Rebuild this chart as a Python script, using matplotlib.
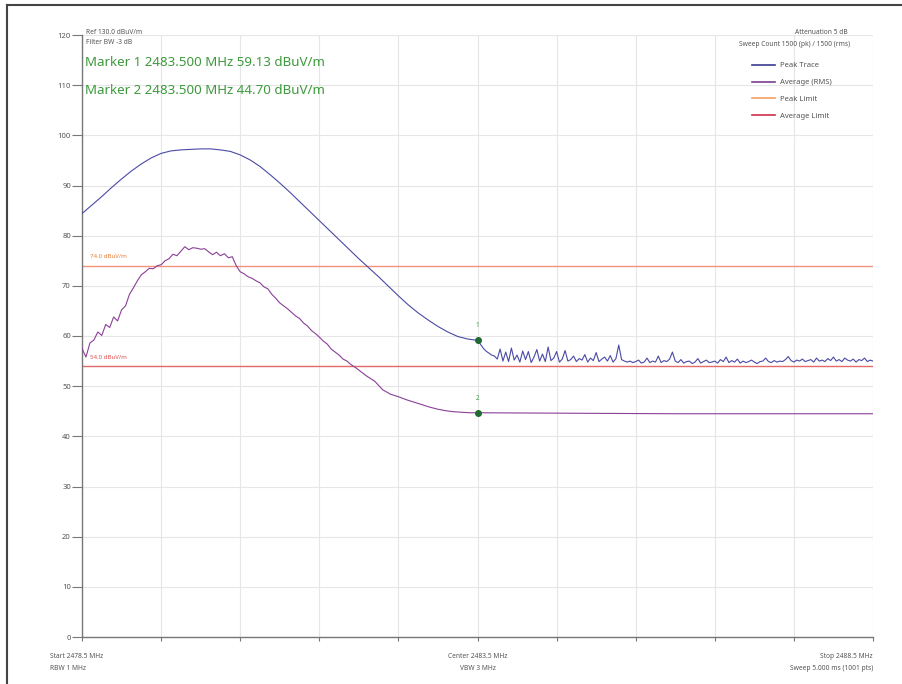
import numpy as np
import matplotlib
matplotlib.use("Agg")
import matplotlib.pyplot as plt
from matplotlib.lines import Line2D

plt.rcParams['font.family'] = ['Noto Sans', 'DejaVu Sans']

# ---------------- data ----------------
span_start = 2478.5
span_stop = 2488.5
center = 2483.5

peak_smooth_freq = [2478.500, 2478.625, 2478.750, 2478.875, 2479.000, 2479.125, 2479.250,
                    2479.375, 2479.500, 2479.625, 2479.750, 2479.875, 2480.000, 2480.125,
                    2480.250, 2480.375, 2480.500, 2480.625, 2480.750, 2480.875, 2481.000,
                    2481.125, 2481.250, 2481.375, 2481.500, 2481.625, 2481.750, 2481.875,
                    2482.000, 2482.125, 2482.250, 2482.375, 2482.500, 2482.625, 2482.750,
                    2482.875, 2483.000, 2483.125, 2483.250, 2483.375]
peak_smooth_vals = [84.4, 86.1, 87.8, 89.6, 91.3, 92.9, 94.3,
                    95.5, 96.4, 96.9, 97.1, 97.2, 97.3, 97.3,
                    97.1, 96.8, 96.1, 95.1, 93.8, 92.2, 90.5,
                    88.7, 86.8, 84.9, 83.0, 81.1, 79.2, 77.3,
                    75.4, 73.6, 71.8, 69.9, 68.0, 66.2, 64.6,
                    63.2, 61.9, 60.8, 59.9, 59.4]

# noisy tail of the peak trace, 2483.5 .. 2488.5 MHz (evenly spaced sweep points)
peak_tail_vals = [59.13, 58.4, 57.6, 57.0, 56.6, 56.2, 56.0,
                  55.4, 57.4, 55.0, 56.8, 54.9, 57.6, 55.2, 56.2, 54.8, 57.0, 55.3, 56.9,
                  54.7, 55.8, 57.3, 55.0, 56.4, 54.9, 57.8, 55.1, 55.6, 56.9, 54.8, 55.4,
                  57.1, 55.0, 55.3, 56.0, 54.9, 55.5, 55.2, 56.3, 54.8, 55.6, 55.1, 56.7,
                  54.9, 55.4, 55.8, 55.0, 56.1, 54.8, 55.5, 58.2, 55.3, 55.0,
                  54.8, 55.0, 54.7, 54.9, 55.2, 54.6, 54.8, 55.6, 54.7, 55.0, 54.8, 56.0,
                  54.7, 55.1, 54.9, 55.4, 56.8, 55.0, 54.7, 55.3, 54.6, 54.9, 55.0, 54.5,
                  54.8, 55.5, 54.6, 54.9, 55.2, 54.7, 54.8, 55.0, 54.6, 55.3, 54.9, 55.8,
                  54.7, 55.1, 54.8, 55.4, 54.6, 55.0, 54.7, 54.9, 55.2, 54.8, 54.5, 54.9,
                  55.0, 55.6, 54.9, 54.7, 55.1, 54.8, 55.0, 54.9, 55.3, 55.9, 55.1, 54.8,
                  55.2, 55.0, 55.4, 54.9, 55.1, 55.3, 54.8, 55.6, 55.0, 55.2, 54.9, 55.5,
                  55.1, 55.8, 55.0, 55.3, 54.9, 55.6, 55.2, 55.0, 55.4, 54.8, 55.3, 55.1,
                  55.6, 54.9, 55.2, 55.0]

avg_freq = [2478.50, 2478.55, 2478.60, 2478.65, 2478.70, 2478.75, 2478.80, 2478.85,
            2478.90, 2478.95, 2479.00, 2479.05, 2479.10, 2479.15, 2479.20, 2479.25,
            2479.30, 2479.35, 2479.40, 2479.45, 2479.50, 2479.55, 2479.60, 2479.65,
            2479.70, 2479.75, 2479.80, 2479.85, 2479.90, 2479.95, 2480.00, 2480.05,
            2480.10, 2480.15, 2480.20, 2480.25, 2480.30, 2480.35, 2480.40, 2480.45,
            2480.50, 2480.55, 2480.60, 2480.65, 2480.70, 2480.75, 2480.80, 2480.85,
            2480.90, 2480.95, 2481.00, 2481.05, 2481.10, 2481.15, 2481.20, 2481.25,
            2481.30, 2481.35, 2481.40, 2481.45, 2481.50, 2481.55, 2481.60, 2481.65,
            2481.70, 2481.75, 2481.80, 2481.85, 2481.90, 2481.95, 2482.00, 2482.10,
            2482.20, 2482.30, 2482.40, 2482.50, 2482.60, 2482.70, 2482.80, 2482.90,
            2483.00, 2483.10, 2483.20, 2483.30, 2483.40, 2483.50, 2486.00, 2488.50]
avg_vals = [57.5, 55.8, 58.6, 59.2, 60.8, 60.1, 62.3, 61.7,
            63.8, 63.0, 65.2, 66.0, 68.3, 69.6, 71.0, 72.2,
            72.8, 73.5, 73.4, 74.0, 74.2, 75.0, 75.4, 76.3,
            76.0, 76.9, 77.8, 77.2, 77.6, 77.5, 77.3, 77.4,
            76.8, 76.2, 76.7, 76.0, 76.4, 75.6, 75.8, 74.0,
            72.8, 72.4, 71.8, 71.5, 71.0, 70.6, 69.8, 69.4,
            68.3, 67.5, 66.6, 66.0, 65.4, 64.7, 64.0, 63.5,
            62.6, 62.0, 61.1, 60.5, 59.8, 59.0, 58.4, 57.4,
            56.8, 56.2, 55.4, 55.0, 54.3, 53.8, 53.2, 52.0,
            51.0, 49.3, 48.4, 47.9, 47.3, 46.8, 46.3, 45.8,
            45.4, 45.1, 44.9, 44.8, 44.7, 44.70, 44.5, 44.5]

peak_limit = 74.0
avg_limit = 54.0
marker_freqs = [2483.5, 2483.5]
marker_vals = [59.13, 44.70]
marker_names = ["1", "2"]

y_ticks = [0, 10, 20, 30, 40, 50, 60, 70, 80, 90, 100, 110, 120]

# ---------------- figure ----------------
W, H = 902, 684
fig = plt.figure(figsize=(W / 100, H / 100), dpi=100)
fig.patch.set_facecolor('white')

def fx(px):
    return px / W

def fy(py):
    return 1 - py / H

ax = fig.add_axes([fx(82), fy(637), fx(873) - fx(82), fy(35) - fy(637)])
ax.set_xlim(span_start, span_stop)
ax.set_ylim(0, 120)

c_peak = '#4a4aa6'
c_avg = '#8a3f98'
c_plim = '#f2937c'
c_alim = '#e46a6a'
c_mark = '#1f6b2f'

tail_freq = np.linspace(center, span_stop, len(peak_tail_vals))
peak_freq = np.concatenate([peak_smooth_freq, tail_freq])
peak_vals = np.concatenate([peak_smooth_vals, peak_tail_vals])

ax.plot(peak_freq, peak_vals, color=c_peak, lw=0.8, zorder=3)
ax.plot(avg_freq, avg_vals, color=c_avg, lw=0.8, zorder=3)
ax.axhline(peak_limit, color=c_plim, lw=1.0, zorder=2)
ax.axhline(avg_limit, color=c_alim, lw=1.0, zorder=2)

ax.text(span_start + 0.1, peak_limit + 1.3, f"{peak_limit:.1f} dBuV/m", color='#e8803a',
        fontsize=4.4, va='bottom', ha='left')
ax.text(span_start + 0.1, avg_limit + 1.3, f"{avg_limit:.1f} dBuV/m", color='#e05050',
        fontsize=4.4, va='bottom', ha='left')

for f, v, n in zip(marker_freqs, marker_vals, marker_names):
    ax.plot([f], [v], 'o', color=c_mark, ms=4, zorder=5)
    ax.text(f, v + 2.2, n, color='#3a9a3a', fontsize=4.5, ha='center', va='bottom')

# grid
ax.set_xticks(np.arange(span_start, span_stop + 0.01, 1.0))
ax.set_yticks(y_ticks)
ax.grid(True, color='#e6e6e6', lw=0.8)
ax.set_axisbelow(True)
ax.set_xticklabels([])
ax.set_yticklabels([str(t) for t in y_ticks])
ax.tick_params(axis='y', length=7, width=0.8, color='#777777', labelsize=5.5,
               labelcolor='#555555', pad=1)
ax.tick_params(axis='x', length=3, width=0.8, color='#777777')
for s in ['top', 'right']:
    ax.spines[s].set_visible(False)
for s in ['left', 'bottom']:
    ax.spines[s].set_color('#777777')
    ax.spines[s].set_linewidth(1.0)

# legend
handles = [Line2D([0], [0], color='#3b3b8f', lw=1.2),
           Line2D([0], [0], color='#7a3f8e', lw=1.2),
           Line2D([0], [0], color='#f4a060', lw=1.2),
           Line2D([0], [0], color='#d03048', lw=1.2)]
labels = ["Peak Trace", "Average (RMS)", "Peak Limit", "Average Limit"]
leg = fig.legend(handles, labels, loc='upper left', bbox_to_anchor=(fx(752), fy(62)),
                 frameon=False, fontsize=5.5, handlelength=3.0, handletextpad=0.6,
                 labelspacing=1.25, borderaxespad=0, borderpad=0)
for t in leg.get_texts():
    t.set_color('#555555')

# header texts
gray = '#555555'
fig.text(fx(86), fy(33), "Ref 130.0 dBuV/m", fontsize=4.8, color=gray, va='center')
fig.text(fx(86), fy(43), "Filter BW -3 dB", fontsize=4.8, color=gray, va='center')
fig.text(fx(85), fy(63), "Marker 1 2483.500 MHz 59.13 dBuV/m", fontsize=9.6, color='#3c9a3c', va='center')
fig.text(fx(85), fy(91), "Marker 2 2483.500 MHz 44.70 dBuV/m", fontsize=9.6, color='#3c9a3c', va='center')
fig.text(fx(848), fy(33), "Attenuation 5 dB", fontsize=4.8, color=gray, va='center', ha='right')
fig.text(fx(850), fy(45), "Sweep Count 1500 (pk) / 1500 (rms)", fontsize=4.8, color=gray,
         va='center', ha='right')

# footer texts
fig.text(fx(50), fy(657), "Start 2478.5 MHz", fontsize=4.8, color=gray, va='center')
fig.text(fx(50), fy(669), "RBW 1 MHz", fontsize=4.8, color=gray, va='center')
fig.text(fx(478), fy(657), "Center 2483.5 MHz", fontsize=4.8, color=gray, va='center', ha='center')
fig.text(fx(478), fy(669), "VBW 3 MHz", fontsize=4.8, color=gray, va='center', ha='center')
fig.text(fx(873), fy(657), "Stop 2488.5 MHz", fontsize=4.8, color=gray, va='center', ha='right')
fig.text(fx(873), fy(669), "Sweep 5.000 ms (1001 pts)", fontsize=4.8, color=gray, va='center', ha='right')

# outer border (top and left)
fig.add_artist(Line2D([fx(7), 1.0], [fy(5), fy(5)], color='#444444', lw=1.5))
fig.add_artist(Line2D([fx(7), fx(7)], [fy(5), 0.0], color='#444444', lw=1.5))

fig.savefig("out.png", dpi=100, facecolor='white')
